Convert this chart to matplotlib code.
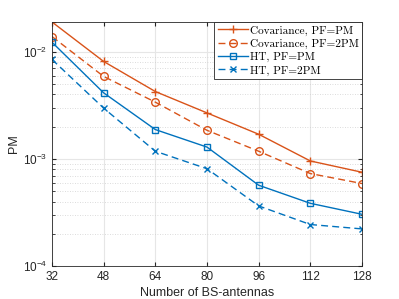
import numpy as np
import matplotlib.pyplot as plt

antennas = [32, 48, 64, 80, 96, 112, 128]
cov_pm = [0.0190, 0.00813, 0.00426, 0.00269, 0.00170, 0.000957, 0.000751]
cov_2pm = [0.0139, 0.00589, 0.00339, 0.00185, 0.00118, 0.000730, 0.000589]
ht_pm = [0.0123, 0.00414, 0.00188, 0.00129, 0.000568, 0.000385, 0.000304]
ht_2pm = [0.00849, 0.00298, 0.00118, 0.00081, 0.000364, 0.000244, 0.000222]
labels = ["Covariance, PF=PM", "Covariance, PF=2PM", "HT, PF=PM", "HT, PF=2PM"]

orange = "#D95319"
blue = "#0072BD"
axcol = "#262626"

plt.rcParams["font.family"] = ["Liberation Sans", "DejaVu Sans"]

fig = plt.figure(figsize=(3.99, 2.99), dpi=100)
ax = fig.add_axes([52/399, 1 - 266/299, 310/399, 244/299])

ax.plot(antennas, cov_pm, color=orange, lw=1, marker="+", ms=6, mew=1, label=labels[0])
ax.plot(antennas, cov_2pm, color=orange, lw=1, ls=(0, (5, 3)), marker="o", ms=5.5,
        mfc="none", mew=1, label=labels[1])
ax.plot(antennas, ht_pm, color=blue, lw=1, marker="s", ms=4.5, mfc="none", mew=1,
        label=labels[2])
ax.plot(antennas, ht_2pm, color=blue, lw=1, ls=(0, (5, 3)), marker="x", ms=4.5,
        mew=1, label=labels[3])

ax.set_yscale("log")
ax.set_xlim(32, 128)
ax.set_ylim(1e-4, 0.0190)
ax.set_xticks(antennas)
ax.grid(True, which="major", color="#e6e6e6", lw=0.8)
ax.grid(True, which="minor", color="#d0d0d0", lw=0.6, ls=(0, (1, 2)))
ax.set_axisbelow(True)
ax.tick_params(which="both", direction="in", top=True, right=True,
               colors=axcol, labelsize=8.5, labelcolor=axcol)
ax.tick_params(which="major", length=3)
ax.tick_params(which="minor", length=1.8)
for s in ax.spines.values():
    s.set_color(axcol)
    s.set_linewidth(0.6)

ax.set_xlabel("Number of BS-antennas", fontsize=9, color=axcol, labelpad=3)
ax.set_ylabel("PM", fontsize=9, color=axcol, labelpad=2)

leg = ax.legend(loc="upper right", prop={"family": "cmr10", "size": 8.1},
                borderaxespad=0, fancybox=False, framealpha=1, edgecolor=axcol,
                handlelength=2.65, handletextpad=0.2, labelspacing=0.28,
                borderpad=0.3)
leg.get_frame().set_linewidth(0.6)

fig.savefig("out.png", dpi=100)
